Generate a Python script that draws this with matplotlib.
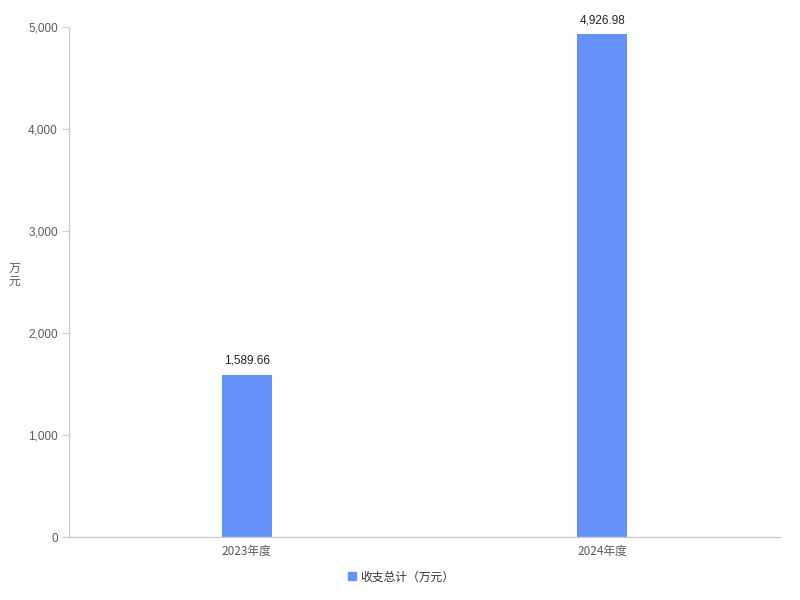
import matplotlib
matplotlib.use("Agg")
import matplotlib.pyplot as plt
from matplotlib.ticker import FuncFormatter
from matplotlib.lines import Line2D

plt.rcParams['font.family'] = ['Noto Sans CJK SC', 'DejaVu Sans']

categories = ["2023年度", "2024年度"]
values = [1589.66, 4926.98]
series_name = "收支总计（万元）"
y_ticks = [0, 1000, 2000, 3000, 4000, 5000]

bar_color = "#6592fa"
axis_color = "#cccccc"
text_color = "#555a66"

fig = plt.figure(figsize=(8, 6), dpi=100)
ax = fig.add_axes([0.08625, 0.105, 0.88875, 0.85])

x = list(range(len(categories)))
ax.bar(x, values, width=0.14, color=bar_color, zorder=2)
for xi, v in zip(x, values):
    ax.annotate(f"{v:,.2f}", (xi, v), xytext=(0, 6), textcoords="offset points",
                ha="center", va="bottom", fontsize=8.5, color="#222222",
                family=["Liberation Sans", "DejaVu Sans"])

ax.set_xlim(-0.5, 1.5)
ax.set_ylim(0, 5000)
ax.set_yticks(y_ticks)
ax.yaxis.set_major_formatter(FuncFormatter(lambda v, p: f"{int(v):,}"))
ax.set_xticks(x)
ax.set_xticklabels(categories)

for side in ["top", "right"]:
    ax.spines[side].set_visible(False)
for side in ["left", "bottom"]:
    ax.spines[side].set_color(axis_color)
    ax.spines[side].set_linewidth(1)

ax.tick_params(axis="y", length=5, color=axis_color, labelcolor=text_color,
               labelsize=8.5, pad=3)
ax.tick_params(axis="x", length=0, labelcolor=text_color, labelsize=8.5, pad=6)
for lbl in ax.get_yticklabels():
    lbl.set_family(["Liberation Sans", "DejaVu Sans"])

fig.text(14/800, 1 - 275/600, "万\n元", ha="center", va="center",
         fontsize=8.5, color=text_color, linespacing=1.0)

handle = Line2D([0], [0], marker="s", color="none", markerfacecolor=bar_color,
                markeredgecolor=bar_color, markersize=6)
fig.legend([handle], [series_name], loc="center", bbox_to_anchor=(0.5, 1 - 577/600),
           frameon=False, fontsize=8.5, handletextpad=0.2, handlelength=1.0,
           labelcolor="#333333")

fig.savefig("out.png", dpi=100)
